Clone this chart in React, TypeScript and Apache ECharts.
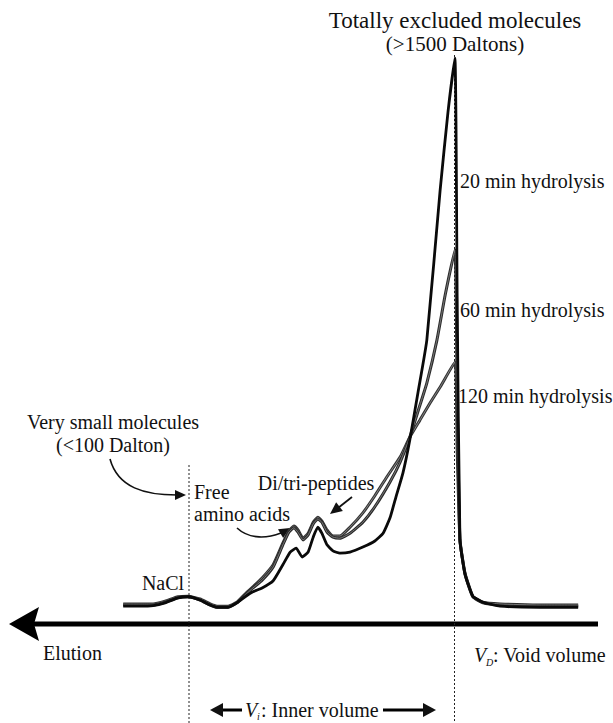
import { useEffect, useRef } from "react";
import * as echarts from "echarts";

// Elution volume (arbitrary mL, increasing to the left) and absorbance (relative)
const vol20 = [99.3, 95.7, 92.8, 90.2, 87.4, 85.2, 82.6, 80.4, 78.9, 76.5, 74.6, 72.8, 71.1, 69.1, 66.7, 64.6, 63.0, 61.7, 60.4, 59.1, 58.0, 57.0, 56.1, 55.0, 53.7, 52.2, 50.0, 47.2, 44.6, 42.8, 41.3, 40.0, 38.5, 37.0, 35.2, 33.3, 30.4, 28.7, 27.2, 26.7, 26.1, 25.0, 23.3, 21.1, 17.4, 8.7, 0.4];
const abs20 = [0.007, 0.007, 0.008, 0.013, 0.022, 0.024, 0.018, 0.009, 0.005, 0.005, 0.013, 0.024, 0.033, 0.040, 0.053, 0.082, 0.105, 0.112, 0.096, 0.105, 0.132, 0.150, 0.139, 0.118, 0.107, 0.103, 0.105, 0.114, 0.125, 0.139, 0.167, 0.205, 0.248, 0.308, 0.395, 0.489, 0.761, 0.902, 1.000, 0.562, 0.127, 0.065, 0.025, 0.014, 0.007, 0.005, 0.005];

const vol60 = [99.3, 95.7, 92.8, 90.2, 87.4, 85.2, 82.6, 80.4, 78.9, 76.5, 74.6, 72.8, 71.1, 69.1, 66.7, 64.6, 63.3, 62.2, 61.3, 60.2, 59.1, 58.0, 57.0, 56.1, 55.0, 53.7, 52.2, 50.0, 47.2, 44.6, 41.3, 39.1, 37.0, 34.8, 33.3, 31.1, 29.3, 27.2, 26.7, 26.1, 25.0, 23.3, 21.1, 17.4, 8.7, 0.4];
const abs60 = [0.009, 0.009, 0.009, 0.014, 0.022, 0.024, 0.018, 0.009, 0.005, 0.005, 0.013, 0.027, 0.040, 0.054, 0.078, 0.118, 0.141, 0.149, 0.141, 0.127, 0.136, 0.156, 0.165, 0.159, 0.141, 0.132, 0.130, 0.139, 0.159, 0.187, 0.232, 0.268, 0.313, 0.371, 0.411, 0.489, 0.571, 0.652, 0.380, 0.127, 0.067, 0.025, 0.014, 0.011, 0.009, 0.009];

const vol120 = [99.3, 95.7, 92.8, 90.2, 87.4, 85.2, 82.6, 80.4, 78.9, 76.5, 74.6, 72.8, 71.1, 69.1, 66.7, 64.6, 63.3, 62.2, 61.3, 60.2, 59.1, 58.0, 57.0, 56.1, 55.0, 53.7, 52.2, 50.0, 47.2, 44.6, 42.0, 39.1, 37.0, 34.8, 32.6, 30.4, 27.2, 26.7, 26.1, 25.0, 23.3, 21.1, 17.4, 8.7, 0.4];
const abs120 = [0.011, 0.011, 0.011, 0.016, 0.024, 0.025, 0.020, 0.011, 0.007, 0.007, 0.014, 0.029, 0.042, 0.058, 0.082, 0.121, 0.143, 0.152, 0.145, 0.130, 0.139, 0.159, 0.168, 0.161, 0.145, 0.134, 0.134, 0.150, 0.176, 0.207, 0.241, 0.277, 0.313, 0.344, 0.375, 0.404, 0.449, 0.290, 0.127, 0.065, 0.024, 0.013, 0.009, 0.007, 0.007];

const SERIF = "Liberation Serif";

function pairs(v: number[], a: number[]) {
  return v.map((x, i) => [x, a[i]]);
}

function head(tx: number, ty: number, fx: number, fy: number, len: number, half: number) {
  const dx = tx - fx;
  const dy = ty - fy;
  const d = Math.hypot(dx, dy);
  const ux = dx / d;
  const uy = dy / d;
  const bx = tx - ux * len;
  const by = ty - uy * len;
  return {
    type: "polygon",
    silent: true,
    shape: { points: [[tx, ty], [bx - uy * half, by + ux * half], [bx + uy * half, by - ux * half]] },
    style: { fill: "#111" },
  };
}

function txt(text: string, x: number, y: number, align = "center", extra: any = {}) {
  return {
    type: "text",
    x,
    y,
    silent: true,
    style: { text, fontSize: 20, fontFamily: SERIF, fill: "#111", align, verticalAlign: "middle", ...extra },
  };
}

export default function App() {
  const ref = useRef<HTMLDivElement>(null);
  useEffect(() => {
    document.body.style.margin = "0";
    if (!ref.current) return;
    const chart = echarts.init(ref.current, undefined, { renderer: "svg" });
    const base = { type: "line", showSymbol: false, symbol: "none", smooth: 0.15, silent: true };
    chart.setOption({
      animation: false,
      backgroundColor: "#fff",
      grid: { left: 120, right: 33, top: 58, bottom: 113 },
      xAxis: { type: "value", min: 0, max: 100, inverse: true, show: false },
      yAxis: { type: "value", min: 0, max: 1, show: false },
      series: [
        { ...base, name: "120 min", data: pairs(vol120, abs120), lineStyle: { color: "#333", width: 3 }, z: 2 },
        { ...base, name: "120 min inner", data: pairs(vol120, abs120), lineStyle: { color: "#999", width: 0.8 }, z: 3 },
        { ...base, name: "60 min", data: pairs(vol60, abs60), lineStyle: { color: "#2a2a2a", width: 3 }, z: 4 },
        { ...base, name: "60 min inner", data: pairs(vol60, abs60), lineStyle: { color: "#8a8a8a", width: 0.8 }, z: 5 },
        { ...base, name: "20 min", data: pairs(vol20, abs20), lineStyle: { color: "#0a0a0a", width: 2.8 }, z: 6 },
      ],
      graphic: [
        // elution axis arrow
        { type: "line", silent: true, shape: { x1: 34, y1: 624, x2: 598, y2: 624 }, style: { stroke: "#000", lineWidth: 5 } },
        { type: "polygon", silent: true, shape: { points: [[9, 624], [39, 607], [34, 624], [39, 641]] }, style: { fill: "#000" } },
        // dashed boundaries
        { type: "line", silent: true, shape: { x1: 189, y1: 465, x2: 189, y2: 723 }, style: { stroke: "#222", lineWidth: 1, lineDash: [2, 2] } },
        { type: "line", silent: true, shape: { x1: 454.5, y1: 55, x2: 454.5, y2: 723 }, style: { stroke: "#222", lineWidth: 1, lineDash: [2, 2] } },
        // texts
        txt("Totally excluded molecules", 455, 20, "center", { fontSize: 23 }),
        txt("(>1500 Daltons)", 455, 44, "center", { fontSize: 21 }),
        txt("20 min hydrolysis", 460, 181, "left"),
        txt("60 min hydrolysis", 460, 310, "left"),
        txt("120 min hydrolysis", 458, 396, "left"),
        txt("Very small molecules", 113, 422),
        txt("(<100 Dalton)", 113, 445),
        txt("Free", 194, 492, "left"),
        txt("amino acids", 194, 514, "left"),
        txt("Di/tri-peptides", 316, 483),
        txt("NaCl", 163, 583),
        txt("Elution", 43, 653, "left"),
        txt("V", 474, 655, "left", { fontStyle: "italic" }),
        txt("D", 486, 662, "left", { fontStyle: "italic", fontSize: 10 }),
        txt(": Void volume", 493, 655, "left"),
        txt("V", 245, 710, "left", { fontStyle: "italic" }),
        txt("i", 257, 716, "left", { fontStyle: "italic", fontSize: 10 }),
        txt(": Inner volume", 261, 710, "left"),
        // curved arrow: very small molecules -> free amino acids
        { type: "bezierCurve", silent: true, shape: { x1: 110, y1: 459, cpx1: 118, cpy1: 488, cpx2: 145, cpy2: 495, x2: 177, y2: 495 }, style: { stroke: "#111", lineWidth: 1.6, fill: null } },
        head(186, 495, 176, 495, 11, 5),
        // free amino acids arrow
        { type: "bezierCurve", silent: true, shape: { x1: 237, y1: 528, cpx1: 250, cpy1: 540, cpx2: 268, cpy2: 538, x2: 281, y2: 533 }, style: { stroke: "#111", lineWidth: 1.6, fill: null } },
        head(290, 528, 280, 534, 11, 5),
        // di/tri-peptides arrow
        { type: "line", silent: true, shape: { x1: 352, y1: 497, x2: 338, y2: 508 }, style: { stroke: "#111", lineWidth: 1.8 } },
        head(330, 514, 352, 497, 12, 5.5),
        // inner volume arrows
        { type: "line", silent: true, shape: { x1: 220, y1: 710, x2: 242, y2: 710 }, style: { stroke: "#000", lineWidth: 3 } },
        head(210, 710, 240, 710, 13, 7),
        { type: "line", silent: true, shape: { x1: 383, y1: 710, x2: 425, y2: 710 }, style: { stroke: "#000", lineWidth: 3 } },
        head(436, 710, 383, 710, 13, 7),
      ],
    });
    return () => chart.dispose();
  }, []);
  return <div ref={ref} style={{ width: 613, height: 723 }} />;
}
